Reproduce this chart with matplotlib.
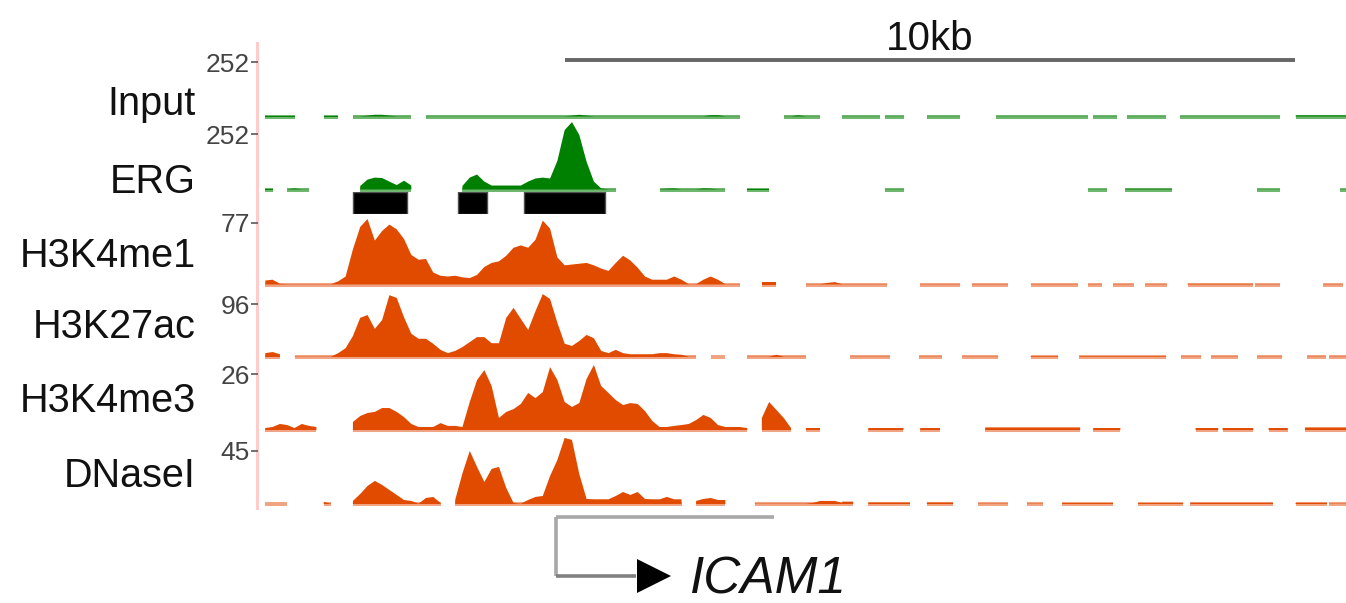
import numpy as np
import matplotlib
matplotlib.use("Agg")
import matplotlib.pyplot as plt
from matplotlib.lines import Line2D

nan = np.nan

# ---------------- data ----------------
BIN_KB = 0.1          # profile bin size (kb), profiles cover 0..8 kb
VIEW_KB = 14.9        # displayed genomic window (kb)

track_names = ["Input", "ERG", "H3K4me1", "H3K27ac", "H3K4me3", "DNaseI"]
track_max = [252, 252, 77, 96, 26, 45]
track_family = ["green", "green", "orange", "orange", "orange", "orange"]

input_profile = [
    nan, 1, 1, 1, 1, 1, nan, nan, nan, 1,
    1, 1, nan, 1, 1, 4, 8, 8, 4, 1,
    1, 1, nan, 1, 1, 1, 1, 1, 1, 1,
    1, 1, 1, 1, 1, 1, 1, 1, 1, 1,
    1, 1, 1, 4, 8, 4, 1, 1, 1, 1,
    1, 1, 1, 1, 1, 1, 1, 1, 1, 1,
    1, 1, 6, 6, 1, 1, 1, nan, nan, nan,
    nan, nan, 1, 1, 6, 1, 1, 1, nan, nan,
    1]

erg_profile = [
    nan, 1, 1, nan, 1, 5, 1, 1, nan, nan,
    nan, nan, nan, nan, 16, 45, 54, 52, 36, 20,
    40, 18, nan, nan, nan, nan, nan, nan, 16, 54,
    68, 36, 18, 18, 18, 18, 18, 36, 50, 54,
    50, 130, 270, 306, 248, 126, 36, 5, 1, 1,
    nan, nan, nan, nan, nan, 1, 4, 5, 1, 1,
    1, 5, 4, 1, 1, nan, nan, 1, 1, 1,
    1, nan, nan, nan, nan, nan, nan, nan, nan, nan,
    nan]

h3k4me1_profile = [
    nan, 5, 6, 1, 0.4, 0.4, 0.4, 0.4, 0.4, 0.4,
    0.4, 4, 10, 44, 72, 82, 55, 67, 75, 69,
    57, 37, 31, 32, 15, 11, 10, 11, 9, 8,
    12, 22, 27, 29, 36, 46, 49, 46, 56, 80,
    70, 34, 24, 25, 26, 27, 24, 20, 17, 27,
    36, 30, 21, 10, 6, 6, 6, 10, 6, 0.4,
    0.4, 6, 10, 6, 0.4, 0.4, 0.4, nan, nan, 3,
    3, 3, nan, nan, nan, 0.4, 0.4, 0.4, 2, 3,
    0.4]

h3k27ac_profile = [
    nan, 7, 9, 5, nan, 0.6, 0.6, 0.6, 0.6, 0.6,
    0.6, 7, 16, 38, 71, 76, 51, 67, 112, 107,
    72, 42, 33, 33, 24, 13, 7, 11, 18, 27,
    36, 36, 25, 25, 71, 89, 69, 49, 83, 114,
    105, 62, 24, 20, 29, 40, 34, 11, 7, 13,
    7, 5, 5, 5, 5, 7, 7, 5, 4, 0.6,
    0.6, nan, 0.6, 0.6, 0.6, nan, nan, 0.6, 0.6, 0.6,
    0.6, 4, 0.6, 0.6, 0.6, 0.6, nan, nan, nan, nan,
    nan]

h3k4me3_profile = [
    nan, 0.9, 1.4, 2.8, 2.3, 0.9, 2.8, 1.9, 1.4, nan,
    nan, nan, nan, 3.7, 6.5, 7.9, 8.4, 10.2, 10.2, 8.4,
    6.0, 2.8, 1.4, 1.4, 1.4, 3.2, 1.9, 1.9, 1.4, 13.0,
    23.2, 27.8, 20.4, 5.6, 8.4, 9.7, 12.1, 17.2, 14.8, 17.6,
    29.2, 23.2, 13.0, 10.7, 12.5, 23.7, 30.2, 20.4, 17.2, 13.9,
    11.6, 12.5, 12.1, 8.8, 4.2, 1.4, 1.4, 1.9, 2.3, 2.8,
    4.6, 7.0, 5.6, 2.3, 1.4, 1.4, 1.4, 0.9, nan, 5.6,
    13.0, 9.3, 5.6, 0.9, nan, 0.9, 0.9, 0.9, nan, nan,
    nan]

dnase_profile = [
    nan, 0.3, 0.3, 0.3, 0.3, nan, nan, nan, nan, 1.7,
    0.3, nan, nan, 2.6, 8.5, 15.3, 19.6, 16.2, 11.9, 7.7,
    3.4, 2.6, 0.3, 5.1, 6.0, 0.9, nan, 3.4, 26.0, 45.1,
    31.5, 18.7, 29.8, 31.5, 13.6, 0.9, 0.3, 3.4, 6.0, 6.8,
    23.8, 37.4, 56.1, 54.4, 25.5, 4.3, 4.0, 4.0, 4.0, 6.8,
    10.2, 7.7, 10.2, 4.3, 4.0, 4.0, 6.0, 4.0, 4.0, nan,
    2.6, 4.3, 5.1, 3.4, 3.4, nan, nan, nan, 0.3, 0.3,
    0.3, 0.3, 0.3, 0.3, 0.3, 0.3, 0.9, 2.6, 2.6, 2.6,
    0.9]

# low-signal covered stretches beyond 8 kb: (start_kb, end_kb, value)
input_tail = [(8.00, 8.52, 1), (8.58, 8.85, 1), (9.16, 9.62, 1), (10.10, 11.37, 1),
              (11.44, 11.77, 1), (11.90, 12.44, 1), (12.63, 14.00, 1), (14.21, 14.90, 5)]
erg_tail = [(8.58, 8.85, 1), (11.36, 11.63, 1), (11.88, 12.52, 3), (13.68, 14.00, 1),
            (14.82, 14.90, 1)]
h3k4me1_tail = [(8.00, 8.62, 0.4), (9.07, 9.62, 0.4), (9.78, 10.27, 0.4), (10.58, 11.23, 0.4),
                (11.36, 11.56, 0.4), (11.71, 11.99, 0.4), (12.15, 12.45, 0.4), (12.73, 13.63, 0.8),
                (13.66, 14.00, 0.4), (14.59, 14.86, 0.4)]
h3k27ac_tail = [(8.11, 8.66, 0.6), (9.05, 9.37, 0.6), (9.64, 10.14, 0.6), (10.58, 10.96, 1.2),
                (11.25, 12.44, 1.2), (12.64, 12.92, 0.6), (13.05, 13.42, 0.6), (13.68, 14.03, 0.6),
                (14.37, 14.63, 0.6), (14.67, 14.90, 0.6)]
h3k4me3_tail = [(8.36, 8.84, 0.9), (9.07, 9.34, 0.9), (9.96, 11.26, 1.2), (11.44, 11.81, 0.9),
                (12.84, 13.15, 0.9), (13.21, 13.63, 0.9), (13.84, 14.10, 0.9), (14.34, 14.90, 1.2)]
dnase_tail = [(8.00, 8.15, 2.0), (8.36, 8.93, 1.2), (9.16, 9.52, 1.2), (9.86, 10.27, 0.3),
              (10.53, 10.75, 0.3), (11.01, 11.71, 0.8), (12.05, 12.67, 0.8), (12.77, 13.90, 1.0),
              (14.21, 14.64, 1.0), (14.67, 14.90, 0.3)]

profiles = [input_profile, erg_profile, h3k4me1_profile, h3k27ac_profile,
            h3k4me3_profile, dnase_profile]
tails = [input_tail, erg_tail, h3k4me1_tail, h3k27ac_tail, h3k4me3_tail, dnase_tail]

erg_peaks = [(1.30, 2.04), (2.74, 3.14), (3.64, 4.75)]   # called peaks (kb)

scale_bar_start_kb = 4.205
scale_bar_len_kb = 10
scale_bar_label = "10kb"

gene_name = "ICAM1"
gene_tss_kb = 4.08
gene_end_kb = 7.07

# ---------------- style / layout ----------------
W, H = 1346, 603
PLOT_LEFT, PLOT_RIGHT = 258, 1346
PX_PER_KB = (PLOT_RIGHT - PLOT_LEFT) / VIEW_KB
track_top_px = [62, 134, 223, 304, 374, 451]
track_base_px = [116.5, 189.5, 284.5, 357, 430, 504]
label_base_px = [115, 193, 267, 338, 412, 487]
colors = {"green": ("#008000", "#6fb66f"), "orange": ("#e04b00", "#f1a483")}

plt.rcParams['font.family'] = ['Liberation Sans', 'DejaVu Sans']

fig = plt.figure(figsize=(W / 100, H / 100), dpi=100)


def rect(left, top, right, bottom):
    return [left / W, 1 - bottom / H, (right - left) / W, (bottom - top) / H]


for name, vmax, fam, prof, tail, top, base, lab in zip(
        track_names, track_max, track_family, profiles, tails,
        track_top_px, track_base_px, label_base_px):
    dark, light = colors[fam]
    ax = fig.add_axes(rect(PLOT_LEFT, top, PLOT_RIGHT, base))
    ax.patch.set_alpha(0)
    v = np.array(prof, dtype=float)
    x = np.arange(len(v)) * BIN_KB
    basel = np.where(np.isfinite(v), 0.0, np.nan)
    ax.plot(x, basel, color=light, lw=2.9, solid_capstyle='butt', zorder=1, clip_on=False)
    ax.fill_between(x, 0, v, color=dark, lw=0, zorder=2, clip_on=False)
    ts = np.array([t[0] for t in tail])
    te = np.array([t[1] for t in tail])
    tv = np.array([t[2] for t in tail])
    ax.hlines(np.zeros_like(ts), ts, te, color=light, lw=2.9, zorder=1, clip_on=False)
    bars = ax.bar(ts, tv, width=te - ts, align='edge', color=dark, lw=0, zorder=2,
                  clip_on=False)
    for b in bars:
        b.set_snap(False)
    ax.set_xlim(0, VIEW_KB)
    ax.set_ylim(0, vmax)
    ax.set_xticks([])
    ax.set_yticks([vmax])
    ax.set_yticklabels([str(vmax)])
    ax.tick_params(axis='y', length=5, width=1.3, color='#666666', pad=1,
                   labelsize=19, labelcolor='#444444')
    for s in ax.spines.values():
        s.set_visible(False)
    fig.text(196 / W, 1 - lab / H, name, ha='right', va='baseline',
             fontsize=28.5, color='#111111')

# called peaks under ERG
pax = fig.add_axes(rect(PLOT_LEFT, 192, PLOT_RIGHT, 214))
pax.broken_barh([(s, e - s) for s, e in erg_peaks], (0, 1),
                facecolors='black', edgecolors='#505050', lw=1.0)
pax.set_xlim(0, VIEW_KB)
pax.set_ylim(0, 1)
pax.axis('off')

# overlay axes in (kb, pixel-row) coordinates for scale bar & gene
ov = fig.add_axes([0, 0, 1, 1])
ov.patch.set_alpha(0)
ov.set_xlim(-PLOT_LEFT / PX_PER_KB, (W - PLOT_LEFT) / PX_PER_KB)
ov.set_ylim(H, 0)
ov.axis('off')

ov.plot([scale_bar_start_kb, scale_bar_start_kb + scale_bar_len_kb], [60, 60],
        color='#666666', lw=2.8, solid_capstyle='butt')
ov.text(scale_bar_start_kb + scale_bar_len_kb / 2, 50, scale_bar_label,
        ha='center', va='baseline', fontsize=29, color='#111111')

ov.plot([gene_tss_kb, gene_end_kb], [517, 517], color='#a8a8a8', lw=2.6,
        solid_capstyle='butt')
ov.plot([gene_tss_kb, gene_tss_kb], [517, 576], color='#a8a8a8', lw=2.6,
        solid_capstyle='butt')
arrow_kb = 1.1
ov.plot([gene_tss_kb, gene_tss_kb + arrow_kb], [576, 576], color='#808080', lw=2.6,
        solid_capstyle='butt')
ov.plot([gene_tss_kb + arrow_kb + 0.25], [576], marker='>', ms=24, color='black', mew=0)
ov.text(gene_tss_kb + 1.84, 593, gene_name, ha='left', va='baseline', fontsize=37,
        style='italic', color='#111111')

# pink vertical guide line at left of tracks
fig.add_artist(Line2D([257 / W, 257 / W], [1 - 43 / H, 1 - 508 / H],
                      transform=fig.transFigure, color='#ffcccc', lw=2.2, zorder=0))

fig.savefig("out.png", dpi=100)
